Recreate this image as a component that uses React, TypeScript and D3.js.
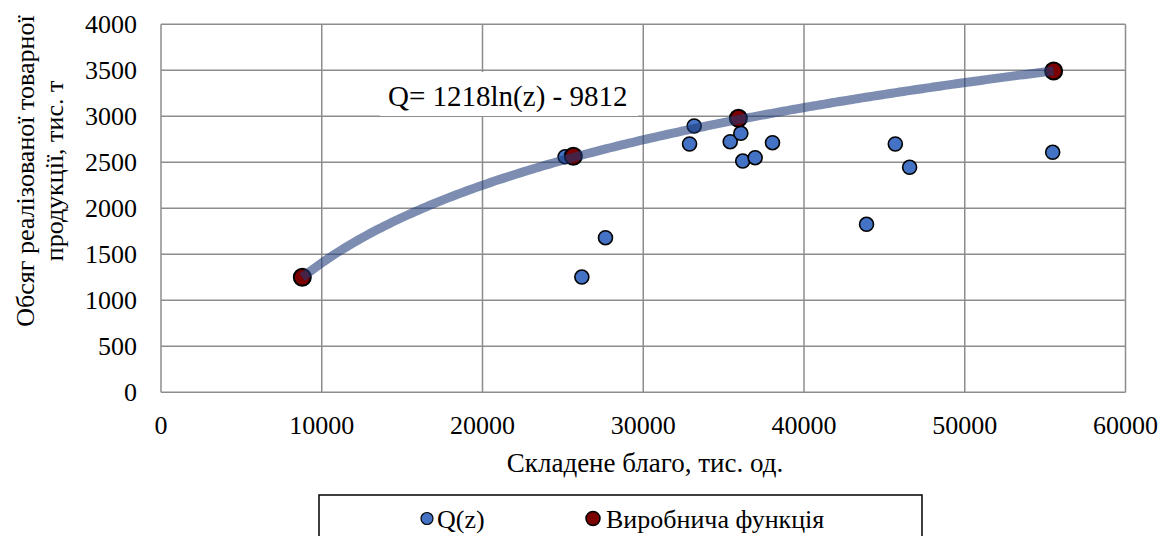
import React from "react";
import * as d3 from "d3";

const xTicks = [0, 10000, 20000, 30000, 40000, 50000, 60000];
const yTicks = [0, 500, 1000, 1500, 2000, 2500, 3000, 3500, 4000];

const qzX = [25140, 26180, 27650, 32880, 33170, 35410, 36070, 36190, 36960, 38040, 43890, 45680, 46570, 55470];
const qzY = [2561, 1253, 1680, 2699, 2895, 2724, 2815, 2514, 2550, 2713, 1826, 2699, 2446, 2609];

const prodX = [8790, 25650, 35920, 55530];
const prodY = [1250, 2565, 2978, 3492];

const trendA = 1218;
const trendB = -9812;
const trendLabel = "Q= 1218ln(z) - 9812";

const xTitle = "Складене благо, тис. од.";
const yTitle1 = "Обсяг реалізованої товарної";
const yTitle2 = "продукції, тис. т";
const legendLabels = ["Q(z)", "Виробнича функція"];

const W = 1164;
const H = 536;
const FONT = "'Liberation Serif', 'Times New Roman', serif";

export default function App() {
  const x = d3.scaleLinear().domain([0, 60000]).range([161, 1125.5]);
  const y = d3.scaleLinear().domain([0, 4000]).range([392.3, 24.3]);

  const zMin = d3.min(prodX) as number;
  const zMax = d3.max(prodX) as number;
  const samples = d3.range(0, 201).map((i) => zMin + ((zMax - zMin) * i) / 200);
  const line = d3
    .line<number>()
    .x((z) => x(z))
    .y((z) => y(trendA * Math.log(z) + trendB))
    .curve(d3.curveLinear);

  const grid = "#8c8c8c";

  return (
    <svg width={W} height={H} style={{ position: "absolute", left: 0, top: 0, background: "#fff" }} fontFamily={FONT}>
      <rect x={0} y={0} width={W} height={H} fill="#fff" />
      {/* grid */}
      {yTicks.map((t) => (
        <line key={"gy" + t} x1={x(0)} x2={x(60000)} y1={y(t)} y2={y(t)} stroke={grid} strokeWidth={1.5} />
      ))}
      {xTicks.map((t) => (
        <line key={"gx" + t} x1={x(t)} x2={x(t)} y1={y(0)} y2={y(4000)} stroke={grid} strokeWidth={1.5} />
      ))}
      {/* tick labels */}
      {yTicks.map((t) => (
        <text key={"ly" + t} x={137} y={y(t)} dy="0.35em" textAnchor="end" fontSize={26} fill="#000">
          {t}
        </text>
      ))}
      {xTicks.map((t) => (
        <text key={"lx" + t} x={x(t)} y={434} textAnchor="middle" fontSize={26} fill="#000">
          {t}
        </text>
      ))}
      {/* axis titles */}
      <text x={645} y={472} textAnchor="middle" fontSize={27} fill="#000">
        {xTitle}
      </text>
      <text transform="translate(34,171) rotate(-90)" textAnchor="middle" fontSize={26} fill="#000">
        {yTitle1}
      </text>
      <text transform="translate(63,171) rotate(-90)" textAnchor="middle" fontSize={26} fill="#000">
        {yTitle2}
      </text>
      {/* trend label box */}
      <rect x={380} y={72} width={258} height={44} fill="#fff" />
      <text x={388} y={106} fontSize={29} fill="#000">
        {trendLabel}
      </text>
      {/* blue points */}
      {qzX.map((v, i) => (
        <circle key={"q" + i} cx={x(v)} cy={y(qzY[i])} r={7} fill="#4472C4" stroke="#000" strokeWidth={1.6} />
      ))}
      {/* production function points */}
      {prodX.map((v, i) => (
        <circle key={"p" + i} cx={x(v)} cy={y(prodY[i])} r={8.5} fill="#7B0000" stroke="#000" strokeWidth={2} />
      ))}
      {/* trendline */}
      <path d={line(samples) || ""} fill="none" stroke="#1F3A78" strokeOpacity={0.58} strokeWidth={9} />
      {/* legend */}
      <rect x={319} y={495} width={603} height={50} fill="#fff" stroke="#000" strokeWidth={1.5} />
      <circle cx={427} cy={518.5} r={6} fill="#4472C4" stroke="#000" strokeWidth={1.2} />
      <text x={437} y={528} fontSize={26} fill="#000">
        {legendLabels[0]}
      </text>
      <circle cx={593} cy={518.5} r={7} fill="#7B0000" stroke="#000" strokeWidth={1.5} />
      <text x={606} y={528} fontSize={26} fill="#000">
        {legendLabels[1]}
      </text>
    </svg>
  );
}
